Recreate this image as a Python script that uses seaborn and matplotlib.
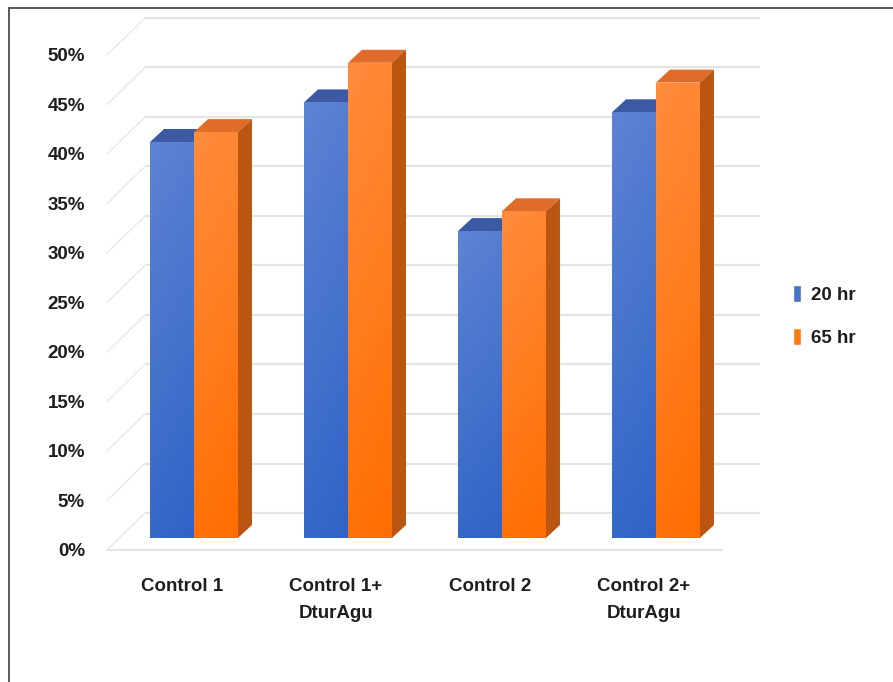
import numpy as np
import pandas as pd
import seaborn as sns
import matplotlib
matplotlib.use("Agg")
import matplotlib.pyplot as plt
from matplotlib.transforms import ScaledTranslation
from matplotlib.patches import Polygon
from matplotlib.lines import Line2D
from matplotlib.colors import LinearSegmentedColormap

# ---------------- data ----------------
categories = ["Control 1", "Control 1+\nDturAgu", "Control 2", "Control 2+\nDturAgu"]
series_names = ["20 hr", "65 hr"]
values_20hr = [40, 44, 31, 43]
values_65hr = [41, 48, 33, 46]
ytick_values = [0, 5, 10, 15, 20, 25, 30, 35, 40, 45, 50]
ytick_labels = [f"{v}%" for v in ytick_values]

df = pd.DataFrame({
    "category": categories * 2,
    "series": [series_names[0]] * len(categories) + [series_names[1]] * len(categories),
    "value": values_20hr + values_65hr,
})

# ---------------- style ----------------
sns.set_theme(style="white")
plt.rcParams["font.family"] = ["Liberation Sans", "DejaVu Sans"]
plt.rcParams["font.weight"] = "bold"

BLUE = "#4472C4"
ORANGE = "#FF7A12"
face_styles = {
    0: dict(grad=("#2F63C6", "#5D83D3"), top="#3B5AA3", side="#2A4F9A"),
    1: dict(grad=("#FF6D00", "#FF8C3D"), top="#DF6C28", side="#BA5612"),
}
TEXT_COL = "#1E1E1E"

DPI = 100
fig = plt.figure(figsize=(8.93, 6.82), dpi=DPI, facecolor="white")
W, H = 893, 682
# axes placed so that the bar plane maps: x px = 194 + 154*i, y px = 538 - 9.9*v
x_lo, x_hi = -0.6, 3.6
y_lo, y_hi = 0, 52
px_x = 154.0
px_y = 9.9
left_px = 194 - (0 - x_lo) * px_x
width_px = (x_hi - x_lo) * px_x
bottom_px = 538
height_px = (y_hi - y_lo) * px_y
ax = fig.add_axes([left_px / W, (H - bottom_px) / H, width_px / W, height_px / H])

sns.barplot(data=df, x="category", y="value", hue="series", order=categories,
            hue_order=series_names, palette=[BLUE, ORANGE], saturation=1,
            width=0.571, ax=ax, errorbar=None, legend=True)
ax.set_xlim(x_lo, x_hi)
ax.set_ylim(y_lo, y_hi)
for s in ax.spines.values():
    s.set_visible(False)
ax.set_xlabel("")
ax.set_ylabel("")
ax.grid(False)

dx_d = lambda px: px / px_x
dy_d = lambda px: px / px_y  # positive = up

# ---------------- 3D-like walls ----------------
floor_l, floor_r = -0.487, 3.506
front_off = (-12, -12)   # px (right, up)
back_off = (26, 25)
grid_col = "#E4E4E4"
for v in ytick_values:
    # back wall grid line
    ax.plot([floor_l + dx_d(back_off[0]), floor_r + dx_d(back_off[0])],
            [v + dy_d(back_off[1])] * 2, color=grid_col, lw=1.6,
            zorder=0.5, clip_on=False, solid_capstyle="butt")
    # left side-wall diagonal
    ax.plot([floor_l + dx_d(front_off[0]), floor_l + dx_d(back_off[0])],
            [v + dy_d(front_off[1]), v + dy_d(back_off[1])],
            color="#EBEBEB", lw=1.2, zorder=0.5, clip_on=False)
# floor front edge
ax.plot([floor_l + dx_d(front_off[0]), floor_r + dx_d(front_off[0])],
        [dy_d(front_off[1])] * 2, color=grid_col, lw=1.6, zorder=0.5, clip_on=False)

# ---------------- bars: gradient + top/side faces ----------------
depth_x, depth_y = dx_d(14), dy_d(13)
for si, cont in enumerate(ax.containers):
    st = face_styles[si]
    cmap = LinearSegmentedColormap.from_list(f"g{si}", list(st["grad"]))
    base_z = 2 + si
    for bar in cont.patches:
        x0, w = bar.get_x(), bar.get_width()
        h = bar.get_height()
        bar.set_zorder(base_z)
        bar.set_edgecolor("none")
        grad = np.tile(np.linspace(0, 1, 200)[:, None], (1, 20))
        grad = grad * 0.85 + np.linspace(0.15, 0, 20)[None, :]
        im = ax.imshow(grad, extent=[x0, x0 + w, 0, h], origin="lower",
                       aspect="auto", cmap=cmap, vmin=0, vmax=1,
                       zorder=base_z + 0.1, interpolation="bilinear")
        im.set_clip_path(bar)
        top = Polygon([[x0, h], [x0 + depth_x, h + depth_y],
                       [x0 + w + depth_x, h + depth_y], [x0 + w, h]],
                      closed=True, facecolor=st["top"], edgecolor="none",
                      zorder=base_z + 0.05)
        ax.add_patch(top)
        side = Polygon([[x0 + w, 0], [x0 + w + depth_x, depth_y],
                        [x0 + w + depth_x, h + depth_y], [x0 + w, h]],
                       closed=True, facecolor=st["side"], edgecolor="none",
                       zorder=base_z + 0.05)
        ax.add_patch(side)
ax.set_xlim(x_lo, x_hi)
ax.set_ylim(y_lo, y_hi)

# ---------------- tick labels (front plane) ----------------
ax.set_yticks(ytick_values)
ax.set_yticklabels(ytick_labels)
ax.tick_params(axis="y", length=0, pad=3.3, labelsize=13.5, labelcolor=TEXT_COL)
ax.set_xticks(range(len(categories)))
ax.set_xticklabels(categories, linespacing=1.8)
ax.tick_params(axis="x", length=0, pad=20, labelsize=13.5, labelcolor=TEXT_COL)
shift = ScaledTranslation(front_off[0] / DPI, front_off[1] / DPI, fig.dpi_scale_trans)
for lab in ax.get_yticklabels() + ax.get_xticklabels():
    lab.set_transform(lab.get_transform() + shift)
    lab.set_fontweight("bold")

# ---------------- legend ----------------
handles, labels = ax.get_legend_handles_labels()
leg = ax.legend(handles, labels, loc="center left",
                bbox_to_anchor=(793 / W, 1 - 316 / H), bbox_transform=fig.transFigure,
                frameon=False, borderpad=0, borderaxespad=0,
                handlelength=0.45, handleheight=1.0, handletextpad=0.5,
                labelspacing=1.3, prop=dict(size=13.5, weight="bold"), title=None)
for t in leg.get_texts():
    t.set_color(TEXT_COL)

# ---------------- outer frame ----------------
fig.add_artist(Line2D([9 / W, 9 / W], [0, 1 - 8 / H], transform=fig.transFigure,
                      color="#4D4D4D", lw=1.3))
fig.add_artist(Line2D([9 / W, 1], [1 - 8 / H, 1 - 8 / H], transform=fig.transFigure,
                      color="#4D4D4D", lw=1.3))

fig.savefig("out.png", dpi=DPI, facecolor="white")
